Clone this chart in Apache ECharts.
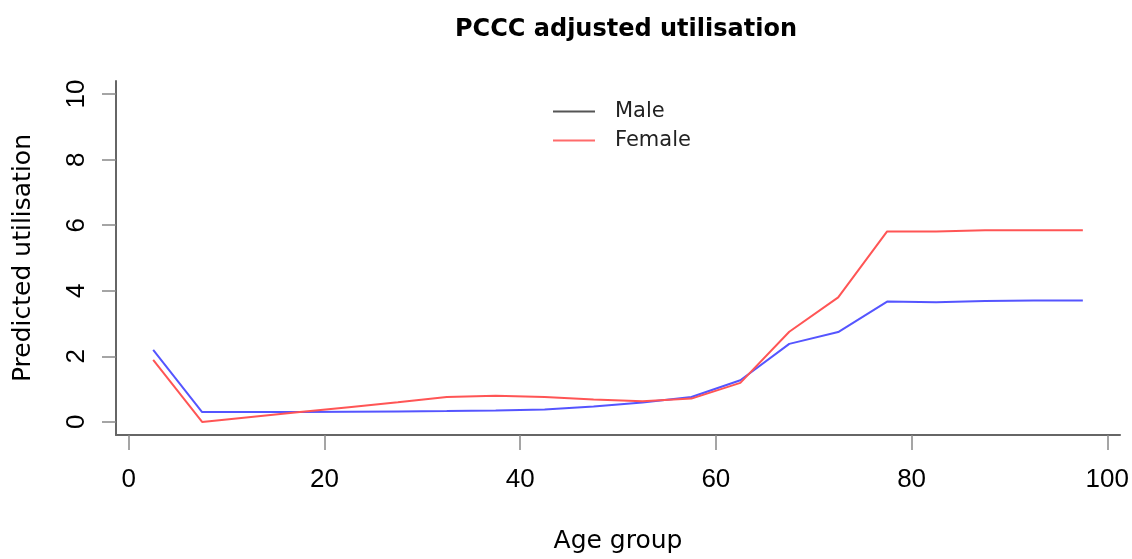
<!DOCTYPE html>
<html>
<head>
<meta charset="utf-8">
<title>PCCC adjusted utilisation</title>
<script src="https://cdn.jsdelivr.net/npm/echarts@6/dist/echarts.min.js"></script>
<style>
  html, body { margin: 0; padding: 0; background: #fff; }
  #main { width: 1132px; height: 559px; }
</style>
</head>
<body>
<div id="main"></div>
<script>
// age group midpoints
const ageGroups = [2.5, 7.5, 12.5, 17.5, 22.5, 27.5, 32.5, 37.5, 42.5, 47.5,
  52.5, 57.5, 62.5, 67.5, 72.5, 77.5, 82.5, 87.5, 92.5, 97.5];
// predicted utilisation
const maleValues = [2.20, 0.30, 0.30, 0.30, 0.31, 0.32, 0.33, 0.35, 0.38, 0.47,
  0.59, 0.76, 1.27, 2.38, 2.74, 3.67, 3.65, 3.69, 3.70, 3.70];
const femaleValues = [1.89, 0.00, 0.15, 0.30, 0.45, 0.60, 0.76, 0.80, 0.76, 0.68,
  0.63, 0.71, 1.19, 2.75, 3.80, 5.81, 5.81, 5.85, 5.85, 5.85];
const xTicks = [0, 20, 40, 60, 80, 100];
const yTicks = [0, 2, 4, 6, 8, 10];

const toPairs = vals => ageGroups.map((a, i) => [a, vals[i]]);

const tickFont = "'Liberation Sans', Arial, sans-serif";
const textFont = "'DejaVu Sans', sans-serif";

const chart = echarts.init(document.getElementById("main"));
const options = {
  animation: false,
  title: {
    text: "PCCC adjusted utilisation",
    left: 621,
    top: 13,
    textAlign: "center",
    textStyle: {
      fontFamily: textFont,
      fontWeight: "bold",
      fontSize: 24,
      lineHeight: 24,
      color: "#000"
    }
  },
  legend: {
    orient: "vertical",
    left: 553,
    top: 101,
    padding: 0,
    icon: "rect",
    itemWidth: 42,
    itemHeight: 2,
    itemGap: 8,
    textStyle: {
      fontFamily: textFont,
      fontSize: 21,
      lineHeight: 21,
      color: "#222",
      padding: [0, 0, 0, 15]
    },
    data: [
      { name: "Male", itemStyle: { color: "#555" } },
      { name: "Female", itemStyle: { color: "#ff6b6b" } }
    ]
  },
  grid: {
    left: 116,
    right: 11,
    top: 81,
    bottom: 122
  },
  xAxis: {
    type: "value",
    min: -1.3,
    max: 101.3,
    name: "Age group",
    nameLocation: "middle",
    nameGap: 94,
    nameTextStyle: {
      fontFamily: textFont,
      fontSize: 25,
      lineHeight: 25,
      color: "#000"
    },
    axisLine: {
      show: true,
      onZero: false,
      lineStyle: { color: "#666", width: 2 }
    },
    axisTick: {
      show: true,
      length: 15,
      customValues: xTicks,
      lineStyle: { color: "#888", width: 1.5 }
    },
    axisLabel: {
      customValues: xTicks,
      margin: 32,
      fontFamily: tickFont,
      fontSize: 26,
      lineHeight: 26,
      color: "#000"
    },
    splitLine: { show: false }
  },
  yAxis: {
    type: "value",
    min: -0.4,
    max: 10.4,
    name: "Predicted utilisation",
    nameLocation: "middle",
    nameRotate: 90,
    nameGap: 80,
    nameTextStyle: {
      fontFamily: textFont,
      fontSize: 25,
      lineHeight: 25,
      color: "#000"
    },
    axisLine: {
      show: true,
      onZero: false,
      lineStyle: { color: "#666", width: 2 }
    },
    axisTick: {
      show: true,
      length: 14,
      customValues: yTicks,
      lineStyle: { color: "#888", width: 1.5 }
    },
    axisLabel: {
      customValues: yTicks,
      rotate: 90,
      margin: 26,
      fontFamily: tickFont,
      fontSize: 26,
      lineHeight: 26,
      color: "#000"
    },
    splitLine: { show: false }
  },
  series: [
    {
      name: "Male",
      type: "line",
      data: toPairs(maleValues),
      showSymbol: false,
      symbol: "none",
      lineStyle: { color: "#5555ff", width: 2 },
      itemStyle: { color: "#5555ff" }
    },
    {
      name: "Female",
      type: "line",
      data: toPairs(femaleValues),
      showSymbol: false,
      symbol: "none",
      lineStyle: { color: "#ff5555", width: 2 },
      itemStyle: { color: "#ff5555" }
    }
  ]
};
chart.setOption(options);
</script>
</body>
</html>
